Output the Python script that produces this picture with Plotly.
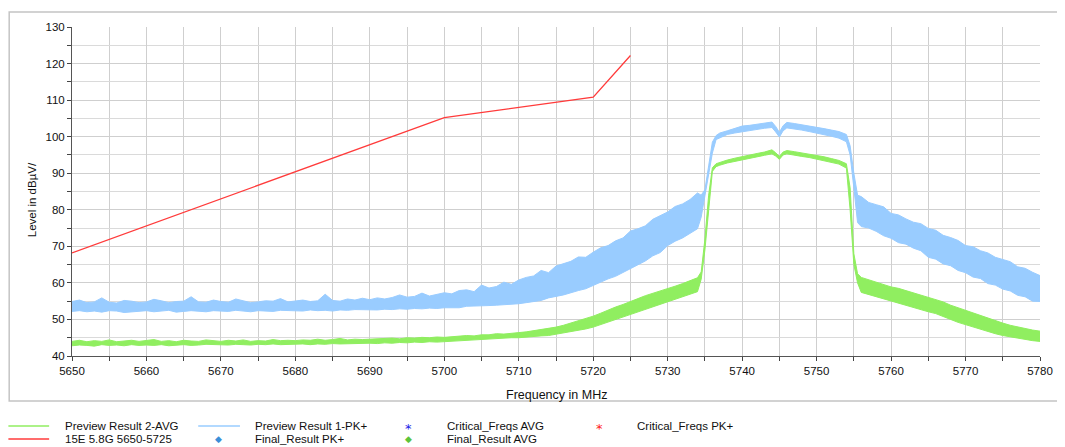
import plotly.graph_objects as go

# ---------------- data ----------------
freq = (list(range(5650, 5735)) + [5734.5, 5735, 5735.5, 5736, 5736.5]
        + list(range(5737, 5745)) + [5744.5, 5745, 5745.5]
        + list(range(5746, 5755)) + [5754.5, 5755, 5755.5]
        + list(range(5756, 5781)))

pk_hi = [54.9, 55.3, 54.6, 54.8, 55.9, 54.7, 54.5, 55.2, 55.0, 54.6,
         54.8, 55.5, 55.1, 54.6, 54.9, 55.0, 56.2, 54.8, 54.7, 55.3,
         54.9, 54.7, 55.6, 55.2, 54.6, 54.8, 55.1, 55.0, 55.7, 54.8,
         55.0, 55.3, 54.9, 55.1, 56.9, 55.2, 55.0, 55.6, 55.3, 55.8,
         55.4, 55.9, 55.6, 56.0, 56.7, 56.1, 56.3, 57.2, 56.4, 56.9,
         57.3, 57.0, 57.9, 58.1, 57.6, 59.4, 58.6, 59.0, 60.2, 59.6,
         60.8, 61.5, 61.9, 63.4, 62.8, 64.6, 65.3, 65.9, 67.1, 67.0,
         68.4, 69.6, 70.2, 71.5, 72.3, 74.2, 74.8, 75.6, 77.4, 78.5,
         79.4, 80.9, 81.6, 82.8, 84.6,
         84.0, 85.5, 92.0, 98.5, 100.3,
         101.0, 101.6, 102.2, 102.9, 103.1, 103.4, 103.7, 104.0,
         102.8, 101.2, 103.0,
         103.9, 103.6, 103.3, 103.0, 102.6, 102.2, 101.8, 101.4, 100.6,
         97.5, 90.0, 84.0,
         83.6, 82.0, 81.4, 80.8, 79.0, 78.6, 77.5, 76.6, 76.2, 74.9,
         74.4, 73.0, 72.4, 71.6, 70.2, 69.9, 68.8, 68.2, 67.0, 66.5,
         65.8, 64.4, 64.0, 62.9, 62.0]
pk_lo = [52.2, 52.4, 52.1, 52.3, 52.0, 52.4, 52.3, 51.9, 52.2, 52.3,
         52.4, 52.1, 52.3, 52.5, 52.0, 52.2, 52.4, 52.3, 52.1, 52.4,
         52.3, 52.2, 52.5, 52.3, 52.1, 52.4, 52.3, 52.2, 52.5, 52.4,
         52.4, 52.3, 52.6, 52.4, 52.5, 52.3, 52.6, 52.5, 52.7, 52.6,
         52.7, 52.6, 52.8, 52.7, 52.9, 52.8, 53.0, 52.9, 53.1, 53.0,
         53.2, 53.3, 53.2, 53.6, 53.5, 53.7, 53.8, 53.9, 54.0, 54.1,
         54.3, 54.6, 55.0, 55.2, 55.9, 56.3, 56.7, 57.2, 57.9, 58.4,
         59.3, 60.2, 61.1, 61.8, 62.9, 63.8, 64.9, 66.0, 67.4, 68.3,
         70.2, 71.4, 72.3, 73.6, 74.8,
         78.0, 83.5, 89.5, 95.5, 99.2,
         99.8, 100.6, 101.0, 101.4, 101.8, 102.0, 102.3, 102.5,
         101.3, 99.9, 101.6,
         102.4, 102.1, 101.8, 101.4, 101.0, 100.6, 100.1, 99.6, 98.6,
         95.0, 86.0, 76.5,
         75.4, 75.0, 74.1, 72.9, 72.2, 71.0, 70.6, 69.5, 68.8, 67.0,
         66.5, 65.2, 64.7, 63.4, 62.8, 61.6, 61.2, 59.8, 59.4, 58.3,
         57.8, 56.6, 56.2, 55.0, 54.9]

avg_hi = [44.0, 44.3, 43.9, 44.2, 44.0, 44.4, 43.9, 44.1, 44.3, 44.0,
          44.2, 44.5, 44.0, 44.2, 43.9, 44.3, 44.1, 44.0, 44.4, 44.1,
          44.0, 44.3, 44.1, 44.4, 44.0, 44.2, 44.1, 44.5, 44.2, 44.3,
          44.2, 44.4, 44.3, 44.6, 44.3, 44.5, 44.8, 44.4, 44.6, 44.5,
          44.6, 44.8, 44.7, 44.9, 44.7, 45.0, 44.9, 45.1, 45.0, 45.2,
          45.1, 45.3, 45.4, 45.6, 45.5, 45.8, 45.8, 46.1, 46.0, 46.3,
          46.4, 46.6, 46.9, 47.1, 47.5, 47.9, 48.4, 49.0, 49.6, 50.2,
          50.9, 51.7, 52.6, 53.4, 54.1, 55.0, 55.7, 56.5, 57.1, 57.9,
          58.5, 59.1, 59.8, 60.5, 61.4,
          63.0, 72.0, 84.0, 91.5, 92.6,
          93.0, 93.6, 94.1, 94.6, 95.0, 95.4, 95.8, 96.4,
          95.6, 94.6, 95.8,
          96.2, 95.9, 95.6, 95.2, 94.9, 94.5, 94.0, 93.5, 92.6,
          86.0, 68.0, 62.5,
          61.5, 60.8, 60.2, 59.6, 58.9, 58.5, 57.9, 57.4, 56.8, 56.2,
          55.6, 54.8, 53.9, 53.2, 52.4, 51.7, 51.0, 50.2, 49.6, 49.0,
          48.4, 47.9, 47.5, 47.1, 46.8]
avg_lo = [42.8, 43.0, 42.9, 42.7, 43.1, 42.9, 43.0, 42.8, 43.1, 42.9,
          43.0, 42.9, 43.1, 42.8, 43.0, 43.1, 42.9, 43.0, 43.2, 43.0,
          43.1, 43.0, 43.2, 43.1, 43.0, 43.2, 43.1, 43.3, 43.1, 43.2,
          43.2, 43.3, 43.1, 43.3, 43.2, 43.4, 43.3, 43.4, 43.5, 43.4,
          43.5, 43.4, 43.6, 43.5, 43.7, 43.6, 43.8, 43.7, 43.9, 43.8,
          44.0, 44.0, 44.2, 44.3, 44.3, 44.5, 44.6, 44.6, 44.9, 45.0,
          45.0, 45.2, 45.3, 45.5, 45.6, 45.9, 46.2, 46.6, 47.0, 47.4,
          47.9, 48.5, 49.2, 49.9, 50.6, 51.4, 52.1, 52.9, 53.6, 54.3,
          54.9, 55.5, 56.2, 56.9, 57.6,
          61.0, 69.0, 80.0, 90.5, 91.8,
          92.2, 92.8, 93.3, 93.8, 94.1, 94.5, 94.9, 95.3,
          94.7, 93.8, 95.0,
          95.3, 95.0, 94.6, 94.3, 93.9, 93.5, 93.0, 92.5, 91.4,
          80.0, 65.0, 60.0,
          57.4, 56.9, 56.3, 55.6, 55.0, 54.4, 53.9, 53.4, 52.7, 52.1,
          51.6, 50.8, 50.0, 49.2, 48.5, 47.9, 47.3, 46.7, 46.1, 45.6,
          45.2, 44.8, 44.5, 44.2, 44.0]

limit_freq = [5650, 5700, 5720, 5725]
limit_level = [68.2, 105.2, 110.8, 122.2]

x_ticks = [5650, 5660, 5670, 5680, 5690, 5700, 5710, 5720, 5730, 5740, 5750, 5760, 5770, 5780]
y_ticks = [40, 50, 60, 70, 80, 90, 100, 110, 120, 130]

# ---------------- styling ----------------
OFF = 8  # page offset of the figure div (body margin)
W, H = 1065 - OFF, 447 - OFF
L, T = 72 - OFF, 27 - OFF
PLOT_RIGHT, PLOT_BOTTOM = 1046 - OFF, 356 - OFF
R, B = W - PLOT_RIGHT, H - PLOT_BOTTOM
PW, PH = W - L - R, H - T - B
FONT = "Liberation Sans, Arial, sans-serif"
C_AVG = "#90EE60"
C_PK = "#99CCFF"
C_LIM = "#FF3B3B"


def px(xp):
    return (xp - OFF - L) / PW


def py(yp):
    return (H - B - (yp - OFF)) / PH


fig = go.Figure()

fig.add_trace(go.Scatter(x=freq + freq[::-1], y=pk_hi + pk_lo[::-1], mode="lines",
                         fill="toself", fillcolor=C_PK, line=dict(color=C_PK, width=1),
                         name="Preview Result 1-PK+", showlegend=False, hoverinfo="skip"))
fig.add_trace(go.Scatter(x=freq + freq[::-1], y=avg_hi + avg_lo[::-1], mode="lines",
                         fill="toself", fillcolor=C_AVG, line=dict(color=C_AVG, width=1),
                         name="Preview Result 2-AVG", showlegend=False, hoverinfo="skip"))
fig.add_trace(go.Scatter(x=limit_freq, y=limit_level, mode="lines",
                         line=dict(color=C_LIM, width=1.3),
                         name="15E 5.8G 5650-5725", showlegend=False))

shapes = []
annotations = []

# outer frame
shapes.append(dict(type="rect", xref="paper", yref="paper", x0=px(8.8), x1=px(1075),
                   y0=py(401), y1=py(12), line=dict(color="#C4C4C4", width=1.5),
                   fillcolor="rgba(0,0,0,0)", layer="below"))

# legend
leg_rows = [426, 439]
line_items = [(8, 49, leg_rows[0], C_AVG), (8, 49, leg_rows[1], C_LIM), (199, 241, leg_rows[0], C_PK)]
for x0, x1, yy, c in line_items:
    shapes.append(dict(type="line", xref="paper", yref="paper", x0=px(x0), x1=px(x1),
                       y0=py(yy), y1=py(yy), line=dict(color=c, width=1.5)))

leg_texts = [(63, leg_rows[0], "Preview Result 2-AVG"), (63, leg_rows[1], "15E 5.8G 5650-5725"),
             (254, leg_rows[0], "Preview Result 1-PK+"), (254, leg_rows[1], "Final_Result PK+"),
             (447, leg_rows[0], "Critical_Freqs AVG"), (447, leg_rows[1], "Final_Result AVG"),
             (638, leg_rows[0], "Critical_Freqs PK+")]
for xx, yy, t in leg_texts:
    annotations.append(dict(x=px(xx), y=py(yy), xref="paper", yref="paper", text=t,
                            showarrow=False, xanchor="left", yanchor="middle",
                            font=dict(family=FONT, size=11.5, color="#111111")))

leg_marks = [(219, leg_rows[1], "◆", "#3A8FD8", 9), (411, leg_rows[1], "◆", "#5CC43A", 9),
             (411, leg_rows[0] + 2, "*", "#1A1AE6", 13), (603, leg_rows[0] + 2, "*", "#FF2020", 13)]
for xx, yy, t, c, s in leg_marks:
    annotations.append(dict(x=px(xx), y=py(yy), xref="paper", yref="paper", text=t,
                            showarrow=False, xanchor="center", yanchor="middle",
                            font=dict(family="DejaVu Sans", size=s, color=c)))

# axis titles
annotations.append(dict(x=px(560), y=py(395), xref="paper", yref="paper", text="Frequency in MHz",
                        showarrow=False, xanchor="center", yanchor="middle",
                        font=dict(family=FONT, size=12.5, color="#111111")))
annotations.append(dict(x=px(32), y=py(200), xref="paper", yref="paper", text="Level in dBµV/",
                        showarrow=False, xanchor="center", yanchor="middle", textangle=-90,
                        font=dict(family=FONT, size=11.5, color="#111111")))

fig.update_layout(
    width=W, height=H,
    margin=dict(l=L, r=R, t=T, b=B),
    paper_bgcolor="white", plot_bgcolor="white",
    showlegend=False,
    shapes=shapes, annotations=annotations,
    font=dict(family=FONT, size=11, color="#111111"),
)
fig.update_xaxes(range=[5650, 5780], tickvals=x_ticks, ticks="outside", ticklen=4,
                 tickcolor="#444444", showline=True, linecolor="#555555", linewidth=1,
                 showgrid=True, gridcolor="#CFCFCF", gridwidth=1, zeroline=False,
                 minor=dict(dtick=5, tick0=5650, showgrid=True, gridcolor="#CFCFCF",
                            ticks="outside", ticklen=4, tickcolor="#444444"),
                 tickfont=dict(family=FONT, size=11.5, color="#111111"))
fig.update_yaxes(range=[40, 130], tickvals=y_ticks, ticks="outside", ticklen=4,
                 tickcolor="#444444", showline=True, linecolor="#555555", linewidth=1,
                 showgrid=True, gridcolor="#CFCFCF", gridwidth=1, zeroline=False,
                 minor=dict(dtick=5, tick0=40, showgrid=True, gridcolor="#DADADA",
                            ticks="outside", ticklen=4, tickcolor="#444444"),
                 tickfont=dict(family=FONT, size=11.5, color="#111111"))

fig.write_html("out.html")
